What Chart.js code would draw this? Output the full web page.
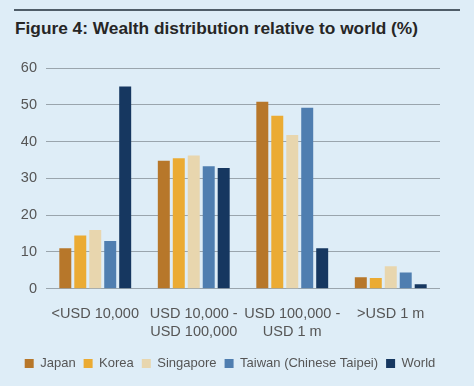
<!DOCTYPE html>
<html lang="en">
<head>
    <meta charset="UTF-8">
    <title>Wealth distribution relative to world</title>
    <script src="https://cdn.jsdelivr.net/npm/chart.js"></script>
    <style>
        body {
            margin: 0;
            width: 474px;
            height: 386px;
            background-color: #deedf7;
            font-family: "Liberation Sans", Arial, sans-serif;
            position: relative;
            overflow: hidden;
        }

        #top-rule {
            position: absolute;
            left: 14px;
            top: 9px;
            width: 446px;
            height: 2px;
            background-color: #4f5d68;
        }

        #title {
            position: absolute;
            left: 15px;
            top: 18px;
            font-size: 17.3px;
            font-weight: bold;
            color: #262626;
        }

        #chart-container {
            position: absolute;
            left: 0;
            top: 0;
            width: 474px;
            height: 386px;
        }
    </style>
</head>
<body>
    <div id="top-rule"></div>
    <div id="title">Figure 4: Wealth distribution relative to world (%)</div>

    <div id="chart-container">
        <canvas id="wealth-chart"></canvas>
    </div>

    <script>
        // Wealth brackets
        var categories = [
            '<USD 10,000',
            ['USD 10,000 -', 'USD 100,000'],
            ['USD 100,000 -', 'USD 1 m'],
            '>USD 1 m'
        ];

        // Share of adults in each bracket (%)
        var japan = [11, 34.8, 50.8, 3.1];
        var korea = [14.5, 35.5, 47, 2.9];
        var singapore = [16, 36.2, 41.8, 6.1];
        var taiwan = [13, 33.3, 49.2, 4.4];
        var world = [55, 32.8, 11, 1.2];

        var yTicks = [0, 10, 20, 30, 40, 50, 60];

        var fontFamily = '"Liberation Sans", Arial, sans-serif';

        var ctx = document.getElementById('wealth-chart').getContext('2d');
        var wealthChart = new Chart(ctx, {
            type: 'bar',
            data: {
                labels: categories,
                datasets: [
                    { label: 'Japan', data: japan, backgroundColor: '#b7772a' },
                    { label: 'Korea', data: korea, backgroundColor: '#ebab33' },
                    { label: 'Singapore', data: singapore, backgroundColor: '#e8d6ae' },
                    { label: 'Taiwan (Chinese Taipei)', data: taiwan, backgroundColor: '#4f7eb0' },
                    { label: 'World', data: world, backgroundColor: '#163760' }
                ]
            },
            options: {
                responsive: true,
                maintainAspectRatio: false,
                animation: false,
                layout: {
                    padding: { top: 68, right: 18, left: 4, bottom: 6 }
                },
                datasets: {
                    bar: {
                        categoryPercentage: 0.76,
                        barPercentage: 0.8
                    }
                },
                scales: {
                    x: {
                        grid: { display: false },
                        border: { display: false },
                        ticks: {
                            color: '#555',
                            font: { size: 14.5, family: fontFamily, lineHeight: 1.25 },
                            maxRotation: 0,
                            autoSkip: false,
                            padding: 8
                        }
                    },
                    y: {
                        min: 0,
                        max: 60,
                        afterBuildTicks: function (axis) {
                            axis.ticks = yTicks.map(function (v) { return { value: v }; });
                        },
                        afterFit: function (axis) {
                            axis.width = 42;
                        },
                        grid: {
                            color: '#9aa5ad',
                            lineWidth: 1,
                            drawTicks: false
                        },
                        border: { display: false },
                        ticks: {
                            color: '#555',
                            font: { size: 14.5, family: fontFamily },
                            padding: 9
                        }
                    },
                    // empty right axis just to keep space on the right of the plot
                    yRight: {
                        type: 'linear',
                        position: 'right',
                        grid: { display: false },
                        border: { display: false },
                        ticks: { display: false },
                        afterFit: function (axis) {
                            axis.width = 16;
                        }
                    }
                },
                plugins: {
                    legend: {
                        position: 'bottom',
                        labels: {
                            boxWidth: 9,
                            boxHeight: 9,
                            padding: 8,
                            color: '#555',
                            font: { size: 13, family: fontFamily }
                        }
                    },
                    tooltip: { enabled: false }
                }
            }
        });
    </script>
</body>
</html>
